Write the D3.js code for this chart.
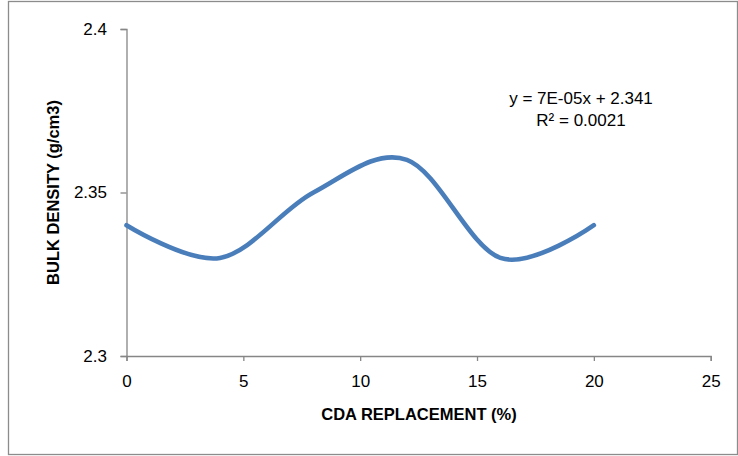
<!DOCTYPE html>
<html>
<head>
<meta charset="utf-8">
<script src="https://cdn.jsdelivr.net/npm/d3@7"></script>
<style>
  body { margin: 0; background: #fff; }
  text { font-family: "Liberation Sans", Arial, sans-serif; fill: #000; }
</style>
</head>
<body>
<div id="chart"></div>
<script>
// data
let replacement = [0, 4, 8, 12, 16, 20]
let bulkDensity = [2.34, 2.33, 2.35, 2.36, 2.33, 2.34]
let xTicks = [0, 5, 10, 15, 20, 25]
let yTicks = [2.3, 2.35, 2.4]
let trendText = ["y = 7E-05x + 2.341", "R\u00b2 = 0.0021"]

let W = 738, H = 456
let margin = {top: 29, right: 27.3, bottom: 100, left: 126.5},
    width = W - margin.left - margin.right,
    height = H - margin.top - margin.bottom

let svg = d3.select("#chart").append("svg")
    .attr("width", W)
    .attr("height", H)

// chart area border
svg.append("rect")
    .attr("x", 8.5).attr("y", 1.5)
    .attr("width", 729).attr("height", 453)
    .attr("fill", "#fff")
    .attr("stroke", "#8c8c8c")
    .attr("stroke-width", 1.3)

let g = svg.append("g")
    .attr("transform", "translate(" + margin.left + "," + margin.top + ")")

let x = d3.scaleLinear().domain([0, 25]).range([0, width])
let y = d3.scaleLinear().domain([2.3, 2.4]).range([height, 0])

let xAxis = g.append("g")
    .attr("transform", "translate(0," + height + ")")
    .call(d3.axisBottom(x).tickValues(xTicks).tickSize(5).tickPadding(13.5).tickFormat(d3.format("d")))

let yAxis = g.append("g")
    .call(d3.axisLeft(y).tickValues(yTicks).tickSize(6).tickPadding(13.5).tickFormat(d => d === 2.35 ? "2.35" : d3.format(".1f")(d)))

;[xAxis, yAxis].forEach(a => {
    a.select(".domain").attr("stroke", "#868686").attr("stroke-width", 1.3)
    a.selectAll(".tick line").attr("stroke", "#868686").attr("stroke-width", 1.3)
    a.selectAll(".tick text")
        .attr("font-size", 17)
        .attr("font-family", "\"Liberation Sans\", Arial, sans-serif")
        .attr("fill", "#000")
})

let points = replacement.map((d, i) => ({x: d, y: bulkDensity[i]}))

let line = d3.line()
    .x(d => x(d.x))
    .y(d => y(d.y))
    .curve(d3.curveCatmullRom.alpha(0))

g.append("path")
    .datum(points)
    .attr("d", line)
    .attr("fill", "none")
    .attr("stroke", "#4a7ebb")
    .attr("stroke-width", 4.6)
    .attr("stroke-linecap", "round")

// trendline equation
svg.selectAll(".trend-label")
    .data(trendText)
    .enter()
    .append("text")
    .attr("class", "trend-label")
    .attr("x", 581)
    .attr("y", (d, i) => 103.5 + i * 22.7)
    .attr("text-anchor", "middle")
    .attr("font-size", 17)
    .text(d => d)

// axis titles
svg.append("text")
    .attr("x", 419)
    .attr("y", 419.5)
    .attr("text-anchor", "middle")
    .attr("font-size", 16.5)
    .attr("font-weight", "bold")
    .text("CDA REPLACEMENT (%)")

svg.append("text")
    .attr("transform", "translate(59," + (margin.top + height / 2) + ") rotate(-90)")
    .attr("text-anchor", "middle")
    .attr("font-size", 16.5)
    .attr("font-weight", "bold")
    .text("BULK DENSITY (g/cm3)")
</script>
</body>
</html>
